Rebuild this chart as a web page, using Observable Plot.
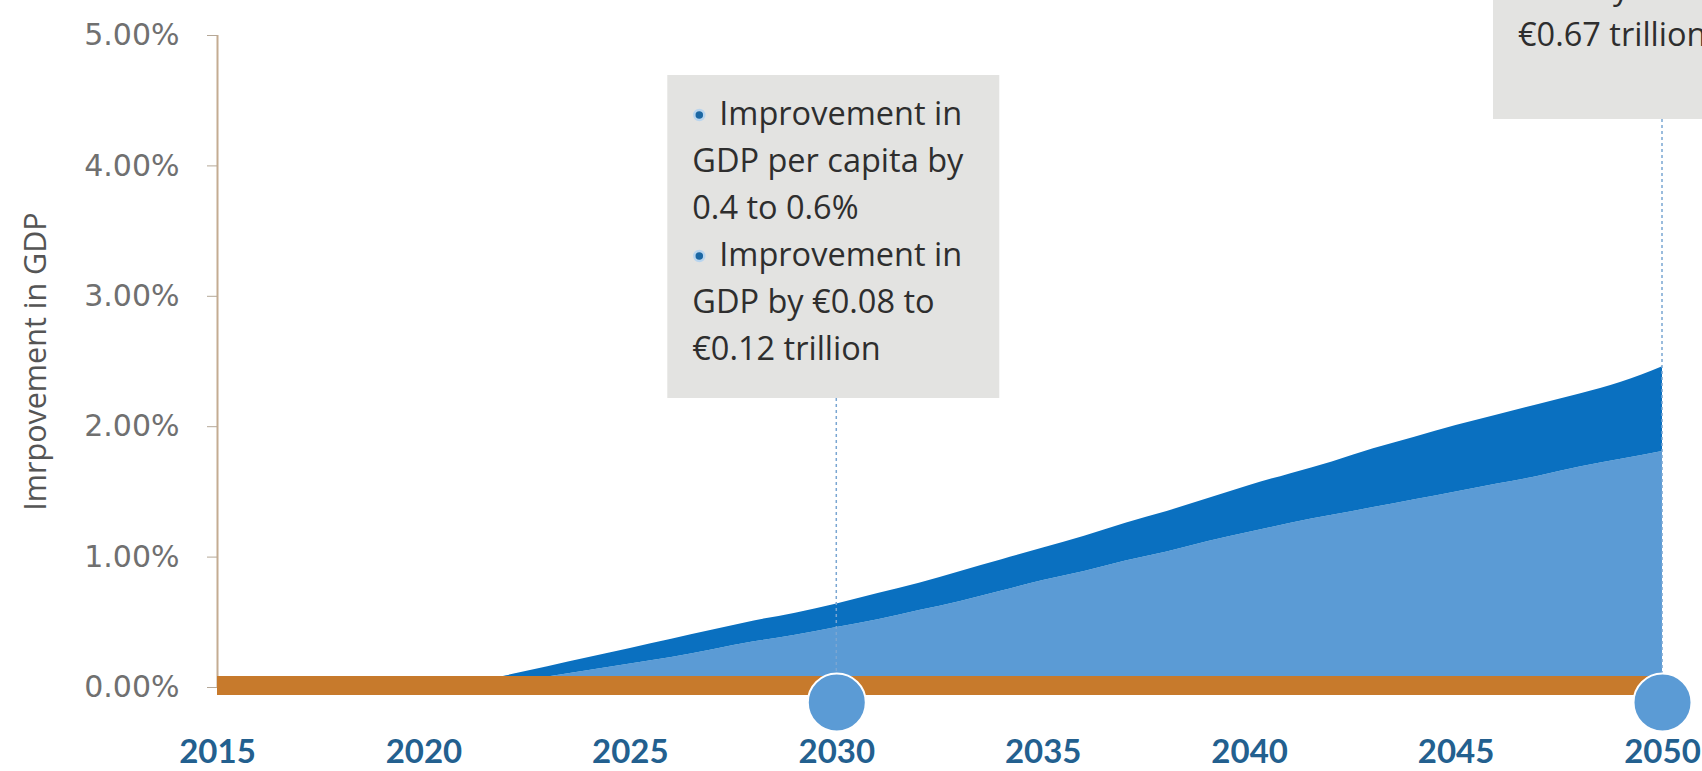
<!DOCTYPE html>
<html>
<head>
<meta charset="utf-8">
<script src="https://cdn.jsdelivr.net/npm/d3@7"></script>
<script src="https://cdn.jsdelivr.net/npm/@observablehq/plot@0.6"></script>
<style>
  html, body { margin: 0; padding: 0; background: #fff; overflow: hidden; }
  #chart svg { display: block; }
</style>
</head>
<body>
<div id="chart"></div>
<script>
// Projected improvement in GDP per capita (%), lower and upper estimate per year
const years = [
  2015, 2016, 2017, 2018, 2019, 2020, 2021, 2022, 2023, 2024,
  2025, 2026, 2027, 2028, 2029, 2030, 2031, 2032, 2033, 2034,
  2035, 2036, 2037, 2038, 2039, 2040, 2041, 2042, 2043, 2044,
  2045, 2046, 2047, 2048, 2049, 2050
];
const lowEstimate = [
  0, 0, 0, 0, 0, 0, 0, 0.02, 0.08, 0.13,
  0.18, 0.23, 0.29, 0.35, 0.40, 0.46, 0.52, 0.59, 0.66, 0.74,
  0.82, 0.89, 0.97, 1.04, 1.12, 1.19, 1.26, 1.32, 1.38, 1.44,
  1.50, 1.56, 1.62, 1.69, 1.75, 1.81
];
const highEstimate = [
  0, 0, 0, 0, 0, 0, 0.02, 0.09, 0.16, 0.23,
  0.30, 0.37, 0.44, 0.51, 0.57, 0.64, 0.72, 0.80, 0.89, 0.98,
  1.07, 1.16, 1.26, 1.35, 1.45, 1.55, 1.64, 1.73, 1.83, 1.92,
  2.01, 2.09, 2.17, 2.25, 2.34, 2.46
];

// Axis ticks and titles
const yTicks = [0, 1, 2, 3, 4, 5];
const xTicks = [2015, 2020, 2025, 2030, 2035, 2040, 2045, 2050];
const yAxisTitle = "Imrpovement in GDP";

// Milestone years with their callouts (each entry: [isBulletLine, text])
const milestoneYears = [2030, 2050];
const callout2030 = [
  [true, "Improvement in"],
  [false, "GDP per capita by"],
  [false, "0.4 to 0.6%"],
  [true, "Improvement in"],
  [false, "GDP by €0.08 to"],
  [false, "€0.12 trillion"]
];
const callout2050 = [
  [false, "GDP by €0.49 to"],
  [false, "€0.67 trillion"]
];

const table = years.map((year, i) => ({year, low: lowEstimate[i], high: highEstimate[i]}));

const LIGHT = "#5b9bd5";
const DARK = "#0a70c0";
const ORANGE = "#c77a2c";
const BOX = "#e3e3e1";

// Callout boxes sit above each milestone year, with a dotted leader down to the marker.
const calloutLayout = [
  {year: 2030, lines: callout2030, top: 75, bottom: 398, firstBaseline: 125},
  {year: 2050, lines: callout2050, top: -204, bottom: 119, firstBaseline: -1}
];

function calloutMark(index, scales) {
  const {x, y} = scales;
  const g = d3.create("svg:g");
  const markerTop = y(0) + 15 - 29;
  for (const c of calloutLayout) {
    const cx = x(c.year);
    const left = cx - 169;
    g.append("line")
      .attr("x1", cx).attr("x2", cx)
      .attr("y1", c.bottom).attr("y2", markerTop)
      .attr("stroke", "#7aa6d2")
      .attr("stroke-width", 1.5)
      .attr("stroke-dasharray", "3,3");
    g.append("rect")
      .attr("x", left).attr("y", c.top)
      .attr("width", 332).attr("height", c.bottom - c.top)
      .attr("fill", BOX);
    c.lines.forEach(([bullet, text], i) => {
      const base = c.firstBaseline + i * 47;
      if (bullet) {
        g.append("circle")
          .attr("cx", left + 32).attr("cy", base - 10).attr("r", 5)
          .attr("fill", "#1b67a3")
          .attr("stroke", "#b9d5ee").attr("stroke-width", 2.5);
      }
      g.append("text")
        .attr("x", left + (bullet ? 52 : 25))
        .attr("y", base)
        .attr("text-anchor", "start")
        .attr("font-family", "'Open Sans', sans-serif")
        .attr("font-size", 32.5)
        .attr("fill", "#2e2e2e")
        .text(text);
    });
  }
  return g.node();
}

const chart = Plot.plot({
  width: 1702,
  height: 771,
  marginLeft: 217,
  marginRight: 40,
  marginTop: 35,
  marginBottom: 84,
  style: {background: "#fff", overflow: "hidden"},
  x: {domain: [2015, 2050]},
  y: {domain: [0, 5]},
  marks: [
    Plot.areaY(table, {x: "year", y1: 0, y2: "low", fill: LIGHT, curve: "monotone-x"}),
    Plot.areaY(table, {x: "year", y1: "low", y2: "high", fill: DARK, curve: "monotone-x"}),
    calloutMark,
    Plot.ruleX([2015], {y1: 0, y2: 5, stroke: "#c4ac92", strokeWidth: 2}),
    Plot.ruleY([0], {stroke: ORANGE, strokeWidth: 19, dy: -2}),
    Plot.dot(milestoneYears, {x: d => d, y: 0, dy: 15, r: 29, fill: LIGHT, stroke: "#fff", strokeWidth: 2}),
    Plot.axisY({
      ticks: yTicks,
      tickFormat: d => d.toFixed(2) + "%",
      tickSize: 10,
      tickPadding: 28,
      stroke: "#b5a898",
      fill: "#707070",
      fontSize: 30,
      fontFamily: "'DejaVu Sans', sans-serif",
      label: null
    }),
    Plot.axisX({
      ticks: xTicks,
      tickFormat: d => String(d),
      tickSize: 0,
      tickPadding: 52,
      fill: "#23608f",
      fontSize: 33,
      fontWeight: "bold",
      fontFamily: "Lato, 'Open Sans', sans-serif",
      label: null
    }),
    Plot.text([yAxisTitle], {
      text: d => d,
      frameAnchor: "left",
      textAnchor: "middle",
      rotate: -90,
      dx: -172,
      lineAnchor: "bottom",
      fontSize: 30.5,
      fontFamily: "'Open Sans', sans-serif",
      fill: "#555"
    })
  ]
});

document.getElementById("chart").append(chart);
</script>
</body>
</html>
